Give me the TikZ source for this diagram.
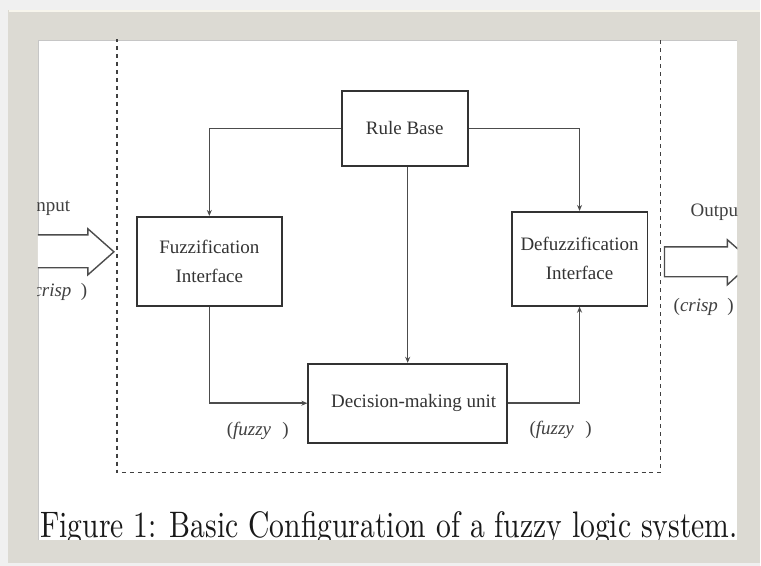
\documentclass[tikz,border=0pt]{standalone}
\usepackage{fontspec}
\usepackage{graphicx}
\newfontfamily\tnr{Liberation Serif}
\usetikzlibrary{arrows.meta}
\definecolor{framegray}{HTML}{DCDAD3}
\definecolor{framelight}{HTML}{F7F5EC}
\begin{document}
\begin{tikzpicture}[x=1pt,y=-1pt,
  box/.style={draw=black!80, line width=1.8pt, fill=white, align=center,
    inner sep=0pt, font=\tnr\fontsize{19}{29}\selectfont, text=black!80},
  conn/.style={draw=black!70, line width=1.4pt},
  tip/.style={-{Stealth[length=6pt,width=5pt]}},
  lbl/.style={font=\tnr\fontsize{19}{23}\selectfont, text=black!75, inner sep=0pt},
  hollow/.style={draw=black!70, line width=1.4pt, fill=white, line join=miter}]
  % page background and picture frame
  \fill[gray!12] (0,0) rectangle (761,566);
  \fill[framegray] (8,10) rectangle (761,563);
  \draw[framelight, line width=1.2pt] (9,11) -- (761,11);
  \fill[white] (38,40) rectangle (738,540);
  \draw[gray!45, line width=1pt] (38.5,540) -- (38.5,40.5) -- (738,40.5);
  \begin{scope}
    \clip (38,40) rectangle (738,540);
    % system boundary
    \draw[black!75, line width=1.6pt, dash pattern=on 4pt off 4pt]
      (117,30) rectangle (661,473);
    % crisp input / output arrows
    \draw[hollow] (20,235) -- (88,235) -- (88,229) -- (114,252) -- (88,275)
      -- (88,268) -- (20,268) -- cycle;
    \draw[hollow] (665,247) -- (728,247) -- (728,240) -- (753,262)
      -- (728,285) -- (728,277) -- (665,277) -- cycle;
    \node[lbl, anchor=west] (inlbl) at (30,207) {Input};
    \node[lbl, anchor=west] (incrisp) at (27,292) {(\textit{crisp}\hspace{0.5em})};
    \node[lbl, anchor=west] (outlbl) at (691,212) {Output};
    \node[lbl, anchor=west] (outcrisp) at (674,307) {(\textit{crisp}\hspace{0.5em})};
    % blocks
    \node[box, minimum width=126pt, minimum height=75pt] (rule) at (405,128.5) {Rule Base};
    \node[box, minimum width=145pt, minimum height=89pt] (fuzz) at (209.5,261.5)
      {Fuzzification\\Interface};
    \node[box, minimum width=136pt, minimum height=94pt] (defuzz) at (580,259)
      {Defuzzification\\Interface};
    \node[box, minimum width=199pt, minimum height=79pt] (dec) at (408,403.5)
      {\hspace*{12pt}Decision-making unit};
    % connectors
    \draw[conn, tip] (rule.west) -| (fuzz.north);
    \draw[conn, tip] (rule.east) -| (defuzz.north);
    \draw[conn, tip] (rule.south -| dec.north) -- (dec.north);
    \draw[conn, tip] (fuzz.south) |- (dec.west);
    \draw[conn, tip] (dec.east) -| (defuzz.south);
    \node[lbl] (fz1) at (258,431) {(\textit{fuzzy}\hspace{0.6em})};
    \node[lbl] (fz2) at (561,430) {(\textit{fuzzy}\hspace{0.6em})};
    % caption
    \node[anchor=base west, inner sep=0pt, text=black!90] (cap) at (40,538)
      {\resizebox{698pt}{26pt}{Figure 1: Basic Configuration of a fuzzy logic system.}};
  \end{scope}
\end{tikzpicture}
\end{document}
